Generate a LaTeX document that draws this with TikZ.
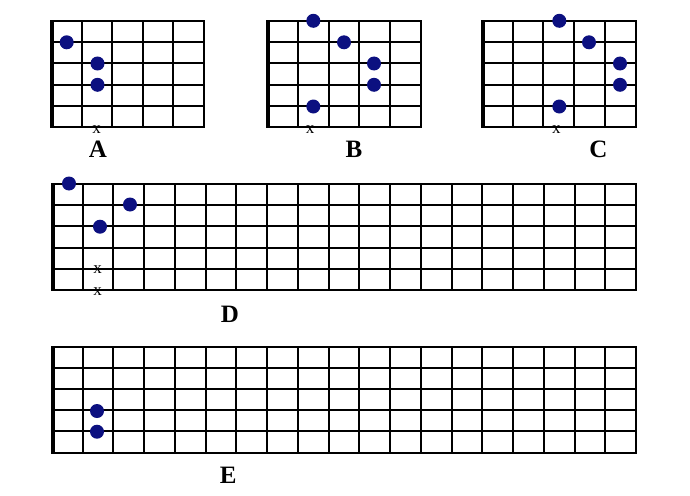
\documentclass[tikz,border=0pt]{standalone}
\usepackage{fontspec}
\setmainfont{Liberation Serif}
\definecolor{dotblue}{RGB}{12,16,128}
\newcommand\fretgrid[5]{%
  \foreach \i in {0,...,#5} \draw[gridline] ({round(#1+\i*#3)},#2) -- ({round(#1+\i*#3)},{round(#2+5*#4)});
  \foreach \j in {0,...,5} \draw[gridline] (#1,{round(#2+\j*#4)}) -- ({round(#1+#5*#3)},{round(#2+\j*#4)});
  \draw[nutline] ({#1+1},{#2-0.8}) -- ({#1+1},{round(#2+5*#4)+0.8});
}
\begin{document}
\begin{tikzpicture}[x=1pt,y=-1pt,
  gridline/.style={line width=1.6pt,black,line cap=rect},
  nutline/.style={line width=4pt,black},
  dot/.style={circle,fill=dotblue,inner sep=0pt,minimum size=14pt},
  lbl/.style={font=\fontsize{25}{25}\selectfont\bfseries,inner sep=0pt},
  mute/.style={font=\fontsize{17}{17}\selectfont,inner sep=0pt}]
\useasboundingbox[fill=white] (0,0) rectangle (690,495);
% grids
\fretgrid{51}{21}{30.6}{21.2}{5}
\fretgrid{267}{21}{30.8}{21.2}{5}
\fretgrid{482}{21}{30.72}{21.2}{5}
\fretgrid{52}{184}{30.74}{21.2}{19}
\fretgrid{52}{347}{30.74}{21.1}{19}
% A
\node[dot] (a1) at (66.7,42.3) {};
\node[dot] (a2) at (97.5,63.5) {};
\node[dot] (a3) at (97.5,84.8) {};
\node[mute] (ax) at (96.5,129.3) {x};
\node[lbl] (la) at (98,149) {A};
% B
\node[dot] (b1) at (313.3,20.8) {};
\node[dot] (b2) at (344,42.3) {};
\node[dot] (b3) at (374,63.5) {};
\node[dot] (b4) at (374,84.8) {};
\node[dot] (b5) at (313.3,106.5) {};
\node[mute] (bx) at (310,129.3) {x};
\node[lbl] (lb) at (354,149) {B};
% C
\node[dot] (c1) at (559.3,20.8) {};
\node[dot] (c2) at (589,42.3) {};
\node[dot] (c3) at (620,63.5) {};
\node[dot] (c4) at (620,84.8) {};
\node[dot] (c5) at (559.3,106.5) {};
\node[mute] (cx) at (556.3,129.3) {x};
\node[lbl] (lc) at (598.3,149) {C};
% D
\node[dot] (d1) at (69,183.5) {};
\node[dot] (d2) at (130,204.5) {};
\node[dot] (d3) at (100,226.7) {};
\node[mute] (dx1) at (97.7,269.5) {x};
\node[mute] (dx2) at (97.7,292) {x};
\node[lbl] (ld) at (230,314) {D};
% E
\node[dot] (e1) at (97,411) {};
\node[dot] (e2) at (97,431.7) {};
\node[lbl] (le) at (228.3,475) {E};
\end{tikzpicture}
\end{document}
